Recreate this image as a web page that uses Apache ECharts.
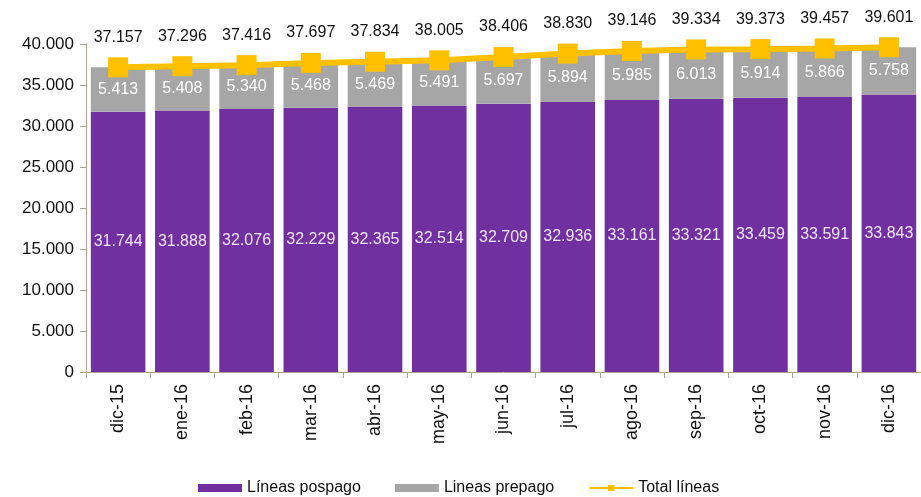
<!DOCTYPE html>
<html><head><meta charset="utf-8">
<script src="https://cdn.jsdelivr.net/npm/echarts@6/dist/echarts.min.js"></script>
<style>html,body{margin:0;padding:0;background:#fff}#c{width:921px;height:497px}</style>
</head><body><div id="c"></div>
<script>
const categories = ['dic-15','ene-16','feb-16','mar-16','abr-16','may-16','jun-16','jul-16','ago-16','sep-16','oct-16','nov-16','dic-16'];
const pospago = [31744,31888,32076,32229,32365,32514,32709,32936,33161,33321,33459,33591,33843];
const prepago = [5413,5408,5340,5468,5469,5491,5697,5894,5985,6013,5914,5866,5758];
const total = [37157,37296,37416,37697,37834,38005,38406,38830,39146,39334,39373,39457,39601];
const yTicks = [0,5000,10000,15000,20000,25000,30000,35000,40000];

const fmt = v => String(v).replace(/\B(?=(\d{3})+(?!\d))/g, '.');
const font = 'Liberation Sans, Arial, sans-serif';
const chart = echarts.init(document.getElementById('c'));
chart.setOption({
  animation: false,
  textStyle: {fontFamily: font},
  grid: {left: 86, right: -18, top: 44, bottom: 125, containLabel: false},
  legend: {
    bottom: -4, left: 193, itemGap: 34, itemWidth: 44, itemHeight: 8,
    textStyle: {fontSize: 16, color: '#111', fontFamily: font},
    data: [
      {name: 'Líneas pospago', icon: 'rect'},
      {name: 'Lineas prepago', icon: 'rect'},
      {name: 'Total líneas'}
    ]
  },
  xAxis: {
    type: 'category', data: categories,
    axisLine: {lineStyle: {color: '#a9a397'}},
    axisTick: {show: true, length: 6, lineStyle: {color: '#a9a397'}},
    axisLabel: {rotate: 90, fontSize: 18, color: '#111', margin: 12, fontFamily: font}
  },
  yAxis: {
    type: 'value', min: 0, max: 40000, interval: 5000,
    axisLine: {show: true, lineStyle: {color: '#a9a397'}},
    axisTick: {show: true, inside: false, length: 6, lineStyle: {color: '#a9a397'}},
    splitLine: {show: false},
    axisLabel: {fontSize: 17, color: '#111', margin: 12, fontFamily: font,
      formatter: v => yTicks.includes(v) ? fmt(v) : ''}
  },
  series: [
    {
      name: 'Líneas pospago', type: 'bar', stack: 's', data: pospago,
      barCategoryGap: '15%',
      itemStyle: {color: '#7030A0'},
      label: {show: true, position: 'inside', color: '#efe4fb', fontSize: 16, formatter: p => fmt(p.value), fontFamily: font}
    },
    {
      name: 'Lineas prepago', type: 'bar', stack: 's', data: prepago,
      itemStyle: {color: '#a6a6a6'},
      label: {show: true, position: 'inside', color: '#ffffff', fontSize: 16, formatter: p => fmt(p.value), fontFamily: font}
    },
    {
      name: 'Total líneas', type: 'line', data: total,
      symbol: 'rect', symbolSize: 20,
      lineStyle: {color: '#FFC000', width: 6},
      itemStyle: {color: '#FFC000'},
      label: {show: true, position: 'top', distance: 12, color: '#111', fontSize: 16, formatter: p => fmt(p.value), fontFamily: font},
      z: 5
    }
  ]
});
</script></body></html>
